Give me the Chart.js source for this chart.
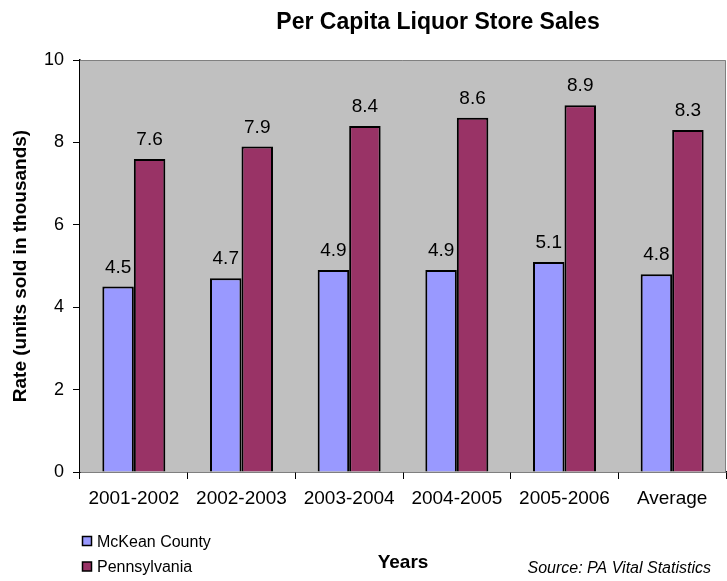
<!DOCTYPE html>
<html>
<head>
<meta charset="utf-8">
<script src="https://cdn.jsdelivr.net/npm/chart.js@4"></script>
<style>
  html, body { margin:0; padding:0; background:#fff; }
  #wrap { width:727px; height:581px; position:relative; }
</style>
</head>
<body>
<div id="wrap"><canvas id="salesChart" width="727" height="581"></canvas></div>
<script>
const periods = ["2001-2002","2002-2003","2003-2004","2004-2005","2005-2006","Average"];
const mckean = [4.5, 4.7, 4.9, 4.9, 5.1, 4.8];
const penn = [7.6, 7.9, 8.4, 8.6, 8.9, 8.3];
const yTicks = [0, 2, 4, 6, 8, 10];

const FONT = "'Liberation Sans', Arial, sans-serif";

// gray plot background + top/right frame
const plotBg = {
  id:"plotBg",
  beforeDatasetsDraw(chart){
    const {ctx, chartArea:a} = chart;
    ctx.save();
    ctx.fillStyle = "#c0c0c0";
    ctx.fillRect(a.left, a.top, a.right - a.left, a.bottom - a.top);
    ctx.strokeStyle = "#808080";
    ctx.lineWidth = 1;
    ctx.beginPath();
    ctx.moveTo(a.left, a.top + 0.5);
    ctx.lineTo(a.right - 0.5, a.top + 0.5);
    ctx.lineTo(a.right - 0.5, a.bottom);
    ctx.stroke();
    ctx.restore();
  }
};

// values over bars, title, legend and source note
const extras = {
  id:"extras",
  afterDatasetsDraw(chart){
    const ctx = chart.ctx;
    ctx.save();
    ctx.fillStyle = "#000";
    ctx.font = "19px " + FONT;
    ctx.textAlign = "center";
    ctx.textBaseline = "alphabetic";
    chart.data.datasets.forEach((ds, i) => {
      chart.getDatasetMeta(i).data.forEach((bar, j) => {
        ctx.fillText(ds.data[j].toFixed(1), bar.x, bar.y - 14);
      });
    });
    ctx.restore();
  },
  afterDraw(chart){
    const ctx = chart.ctx;
    ctx.save();
    ctx.fillStyle = "#000";
    ctx.textBaseline = "alphabetic";

    ctx.font = "bold 23px " + FONT;
    ctx.textAlign = "center";
    ctx.fillText("Per Capita Liquor Store Sales", 438, 29);

    ctx.font = "16px " + FONT;
    ctx.textAlign = "left";
    ctx.textBaseline = "middle";
    chart.data.datasets.forEach((ds, i) => {
      const y = 541.5 + i * 25.5;
      ctx.fillStyle = ds.backgroundColor;
      ctx.fillRect(82.5, y - 5, 9, 9);
      ctx.strokeStyle = "#000";
      ctx.lineWidth = 1.5;
      ctx.strokeRect(82.5, y - 5, 9, 9);
      ctx.fillStyle = "#000";
      ctx.fillText(ds.label, 97, y + 1);
    });

    ctx.font = "italic 16px " + FONT;
    ctx.textAlign = "right";
    ctx.textBaseline = "alphabetic";
    ctx.fillText("Source: PA Vital Statistics", 711, 573);
    ctx.restore();
  }
};

new Chart(document.getElementById("salesChart"), {
  type:"bar",
  data:{
    labels:periods,
    datasets:[
      { label:"McKean County", data:mckean, backgroundColor:"#9999ff", borderColor:"#000", borderWidth:2 },
      { label:"Pennsylvania", data:penn, backgroundColor:"#993366", borderColor:"#000", borderWidth:2 }
    ]
  },
  options:{
    responsive:false,
    animation:false,
    layout:{ padding:{ top:60, right:1, left:0, bottom:0 } },
    plugins:{
      legend:{ display:false },
      title:{ display:false },
      tooltip:{ enabled:false }
    },
    datasets:{ bar:{ categoryPercentage:0.585, barPercentage:1 } },
    scales:{
      x:{
        grid:{ drawOnChartArea:false, color:"#000", tickLength:7, offset:true },
        border:{ color:"#000", width:1.5 },
        ticks:{ color:"#000", font:{ family:FONT, size:19 }, padding:8, maxRotation:0, autoSkip:false },
        title:{ display:true, text:"Years", color:"#000", font:{ family:FONT, size:19, weight:"bold" }, padding:{ top:0, bottom:7 } },
        afterFit(s){ s.height = 109; }
      },
      y:{
        min:0, max:10,
        afterBuildTicks(s){ s.ticks = yTicks.map(v => ({ value:v })); },
        grid:{ drawOnChartArea:false, color:"#000", tickLength:7 },
        border:{ color:"#000", width:1.5 },
        ticks:{ color:"#000", font:{ family:FONT, size:18 }, padding:9 },
        title:{ display:true, text:"Rate (units sold in thousands)", color:"#000", font:{ family:FONT, size:19, weight:"bold" }, padding:{ top:9, bottom:0 } },
        afterFit(s){ s.width = 80; }
      }
    }
  },
  plugins:[plotBg, extras]
});
</script>
</body>
</html>
